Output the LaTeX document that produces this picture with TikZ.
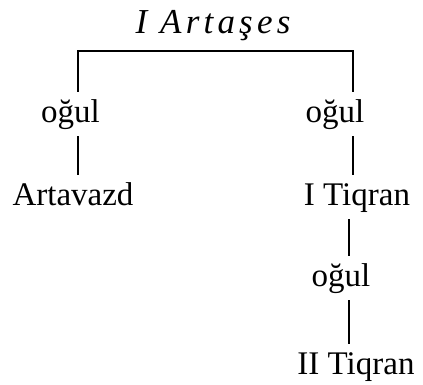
\documentclass[tikz,border=0pt]{standalone}
\usepackage{fontspec}
\setmainfont{Liberation Serif}
\begin{document}
\begin{tikzpicture}[x=1pt,y=-1pt,
  person/.style={anchor=base,inner xsep=0pt,inner ysep=7pt,
    text height=23pt,text depth=7pt,font=\fontsize{33}{39}\selectfont},
  founder/.style={person,font=\fontsize{35}{41}\selectfont\itshape\addfontfeatures{LetterSpace=12}},
  link/.style={line width=1.9pt}]
  \useasboundingbox (0,0) rectangle (423,384);
  % people and relations, placed at their baselines
  \node[founder] (root) at (213,33) {I Artaşes};
  \node[person] (sonL) at (70.5,122) {oğul};
  \node[person] (sonR) at (335,122) {oğul};
  \node[person] (artavazd) at (73,205) {Artavazd};
  \node[person] (tigranI) at (357,205) {I Tiqran};
  \node[person] (sonT) at (341,286) {oğul};
  \node[person] (tigranII) at (356,374) {II Tiqran};
  % x positions of the vertical strokes
  \coordinate (xL) at (78,0);
  \coordinate (xR) at (353,0);
  \coordinate (xT) at (349,0);
  % bracket under the founder
  \draw[link] (sonL.north -| xL) |- ([yshift=-4pt]root.south)
    -| (sonR.north -| xR);
  % descent lines
  \draw[link] (sonL.south -| xL) -- (artavazd.north -| xL);
  \draw[link] (sonR.south -| xR) -- (tigranI.north -| xR);
  \draw[link] (tigranI.south -| xT) -- (sonT.north -| xT);
  \draw[link] (sonT.south -| xT) -- (tigranII.north -| xT);
\end{tikzpicture}
\end{document}
